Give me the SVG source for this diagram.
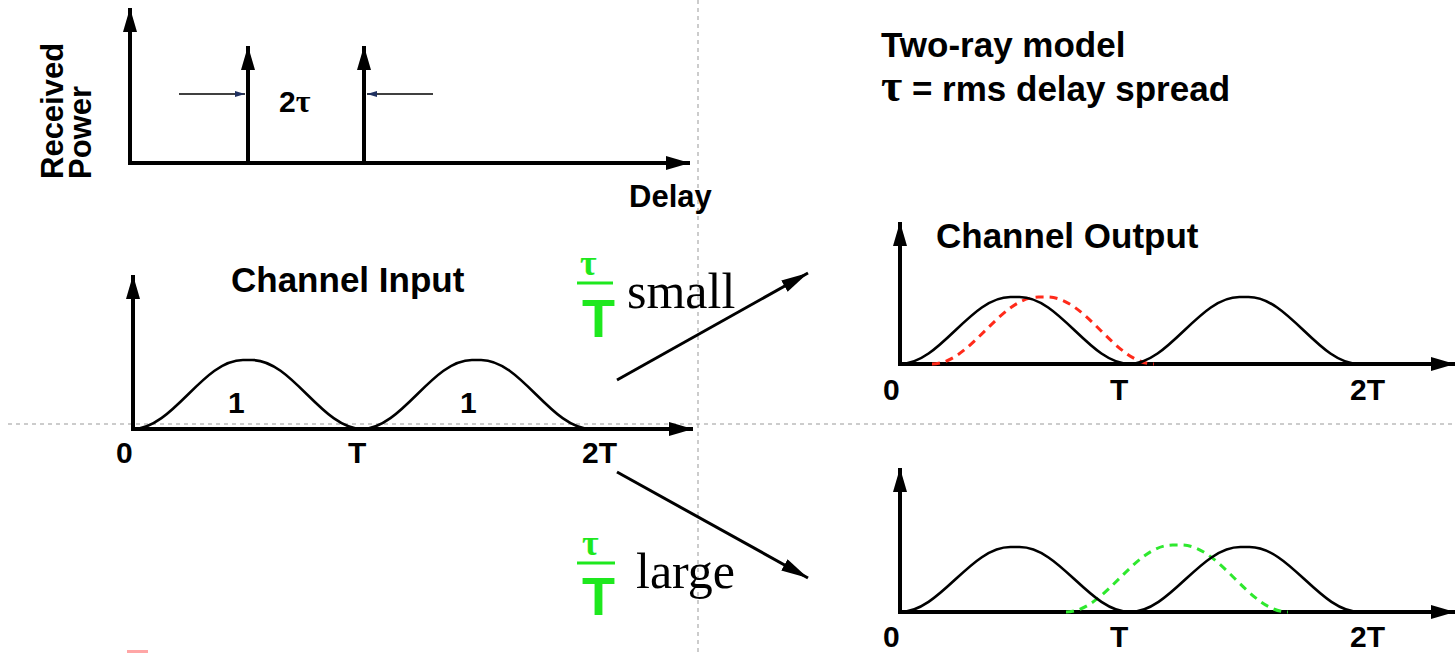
<svg xmlns="http://www.w3.org/2000/svg" width="1455" height="653" viewBox="0 0 1455 653">
<style>
.ax{stroke:#000;stroke-width:4;fill:none}
.pulse{stroke:#000;stroke-width:2.6;fill:none}
.guide{stroke:#999;stroke-width:1;stroke-dasharray:4 4;fill:none}
.t{font-family:"Liberation Sans",Arial,sans-serif;font-weight:bold;fill:#000}
.g{font-family:"Liberation Sans",Arial,sans-serif;font-weight:bold;fill:#1ee81e}
.serif{font-family:"Liberation Serif","Times New Roman",serif;fill:#000}
.red{stroke:#ff2a1a;stroke-width:3;fill:none;stroke-dasharray:8 6}
.grn{stroke:#2ee82e;stroke-width:3;fill:none;stroke-dasharray:8 6}
.arr{stroke:#000;stroke-width:3;fill:none}
</style>
<defs>
<marker id="ah" markerUnits="userSpaceOnUse" markerWidth="26" markerHeight="16" refX="24" refY="7" orient="auto">
<path d="M0,0 L24,7 L0,14 Z" fill="#000"/>
</marker>
<marker id="ad" markerUnits="userSpaceOnUse" markerWidth="30" markerHeight="16" refX="27" refY="6.5" orient="auto">
<path d="M0,0 L27,6.5 L0,13 Z" fill="#000"/>
</marker>
<marker id="as" markerUnits="userSpaceOnUse" markerWidth="12" markerHeight="8" refX="10" refY="3" orient="auto">
<path d="M0,0 L10,3 L0,6 Z" fill="#1f3060"/>
</marker>
<path id="pulse" d="M0,0 C40.2,0 70.2,-67 110.4,-67 L119.6,-67 C159.8,-67 189.8,0 230,0"/>
<path id="pulse2" d="M0,0 C38.8,0 67.8,-67 106.6,-67 L115.4,-67 C154.2,-67 183.2,0 222,0"/>
</defs>

<g id="guides">
<line class="guide" x1="8" y1="424" x2="1455" y2="424"/>
<line class="guide" x1="698" y1="0" x2="698" y2="653"/>
</g>

<g id="power-delay-profile">
<line class="ax" x1="130" y1="163" x2="130" y2="8" marker-end="url(#ah)"/>
<line class="ax" x1="128" y1="163" x2="690" y2="163" marker-end="url(#ah)"/>
<line class="ax" x1="248" y1="163" x2="248" y2="46" marker-end="url(#ah)"/>
<line class="ax" x1="364" y1="163" x2="364" y2="46" marker-end="url(#ah)"/>
<line stroke="#000" stroke-width="1.5" x1="179" y1="94" x2="245" y2="94" marker-end="url(#as)"/>
<line stroke="#000" stroke-width="1.5" x1="433" y1="94" x2="367" y2="94" marker-end="url(#as)"/>
<text class="t" x="279" y="112" font-size="30">2<tspan font-family="Liberation Serif,serif" font-size="32">τ</tspan></text>
<text class="t" font-size="31" transform="translate(63,179) rotate(-90)">Received</text>
<text class="t" font-size="31" transform="translate(91,179) rotate(-90)">Power</text>
<text class="t" x="629" y="207" font-size="31">Delay</text>
</g>

<g id="title">
<text class="t" x="881" y="57" font-size="35">Two-ray model</text>
<text class="t" x="881" y="101" font-size="35"><tspan font-family="Liberation Serif,serif" font-size="46">τ</tspan> = rms delay spread</text>
</g>

<g id="channel-input">
<text class="t" x="231" y="292" font-size="35">Channel Input</text>
<line class="ax" x1="133" y1="431" x2="133" y2="275" marker-end="url(#ah)"/>
<line class="ax" x1="131" y1="429" x2="693" y2="429" marker-end="url(#ah)"/>
<use href="#pulse" class="pulse" transform="translate(133,429) scale(0.996,1.03)"/>
<use href="#pulse" class="pulse" transform="translate(362,429) scale(0.996,1.03)"/>
<text class="t" x="228" y="413" font-size="30">1</text>
<text class="t" x="460" y="413" font-size="30">1</text>
<text class="t" x="116" y="463" font-size="30">0</text>
<text class="t" x="348" y="463" font-size="30">T</text>
<text class="t" x="582" y="463" font-size="30">2T</text>
</g>

<g id="channel-output-small">
<text class="t" x="936" y="248" font-size="35">Channel Output</text>
<line class="ax" x1="900" y1="366" x2="900" y2="222" marker-end="url(#ah)"/>
<line class="ax" x1="898" y1="364" x2="1455" y2="364" marker-end="url(#ah)"/>
<use href="#pulse2" class="red" transform="translate(932,364)"/>
<use href="#pulse" class="pulse" transform="translate(900,364)"/>
<use href="#pulse" class="pulse" transform="translate(1129,364)"/>
<text class="t" x="883" y="400" font-size="30">0</text>
<text class="t" x="1110" y="400" font-size="30">T</text>
<text class="t" x="1350" y="400" font-size="30">2T</text>
</g>

<g id="channel-output-large">
<line class="ax" x1="900" y1="614" x2="900" y2="468" marker-end="url(#ah)"/>
<line class="ax" x1="898" y1="612" x2="1455" y2="612" marker-end="url(#ah)"/>
<use href="#pulse2" class="grn" transform="translate(1066,612)"/>
<use href="#pulse" class="pulse" transform="translate(900,612) scale(1,0.97)"/>
<use href="#pulse" class="pulse" transform="translate(1130,612) scale(1,0.97)"/>
<text class="t" x="883" y="647" font-size="30">0</text>
<text class="t" x="1110" y="647" font-size="30">T</text>
<text class="t" x="1350" y="647" font-size="30">2T</text>
</g>

<g id="label-small">
<text class="g" x="580" y="275" font-size="36"><tspan font-family="Liberation Serif,serif">τ</tspan></text>
<line stroke="#1ee81e" stroke-width="3" x1="577" y1="283" x2="613" y2="283"/>
<text class="g" x="582" y="337" font-size="54">T</text>
<text class="serif" x="627" y="308" font-size="50">small</text>
</g>

<g id="label-large">
<text class="g" x="582" y="555" font-size="36"><tspan font-family="Liberation Serif,serif">τ</tspan></text>
<line stroke="#1ee81e" stroke-width="3" x1="577" y1="563" x2="615" y2="563"/>
<text class="g" x="582" y="615" font-size="54">T</text>
<text class="serif" x="636" y="588" font-size="50">large</text>
</g>

<g id="connectors">
<line class="arr" x1="617" y1="380" x2="808" y2="273" marker-end="url(#ad)"/>
<line class="arr" x1="617" y1="472" x2="808" y2="578" marker-end="url(#ad)"/>
</g>

<rect x="127" y="650" width="21" height="3" fill="#ff6a6a" opacity="0.6"/>
</svg>
